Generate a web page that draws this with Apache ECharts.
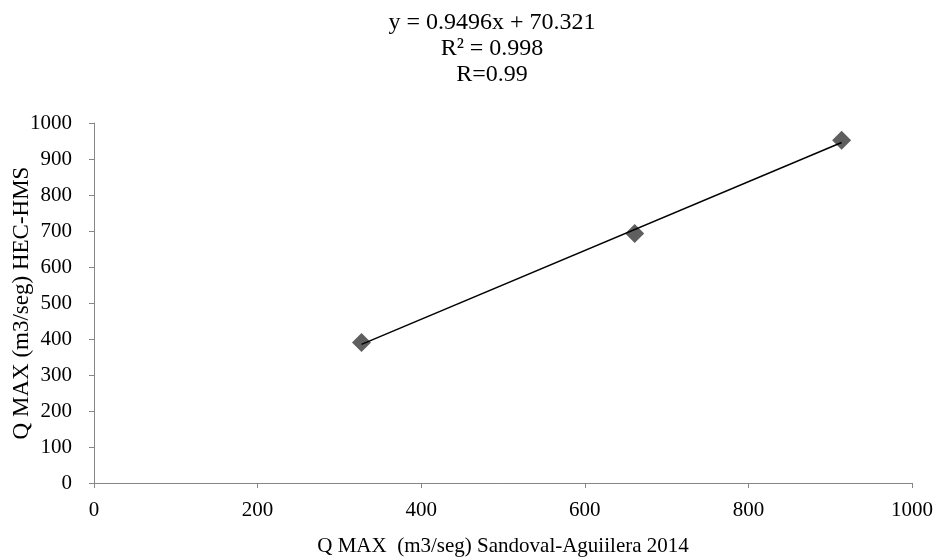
<!DOCTYPE html>
<html>
<head>
<meta charset="utf-8">
<script src="https://cdn.jsdelivr.net/npm/echarts@6/dist/echarts.min.js"></script>
<style>html,body{margin:0;padding:0;background:#fff}#c{width:933px;height:560px}</style>
</head>
<body>
<div id="c"></div>
<script>
var xValues = [327, 661, 914];
var yValues = [390, 693, 952];
var titleLines = ['y = 0.9496x + 70.321', 'R\u00B2 = 0.998', 'R=0.99'];
var xAxisName = 'Q MAX  (m3/seg) Sandoval-Aguiilera 2014';
var yAxisName = 'Q MAX (m3/seg) HEC-HMS';

// least-squares trendline from the data
var n = xValues.length, mx = 0, my = 0;
for (var i = 0; i < n; i++) { mx += xValues[i]; my += yValues[i]; }
mx /= n; my /= n;
var sxy = 0, sxx = 0;
for (var i = 0; i < n; i++) { sxy += (xValues[i]-mx)*(yValues[i]-my); sxx += (xValues[i]-mx)*(xValues[i]-mx); }
var slope = sxy / sxx, intercept = my - slope * mx;
var xmin = Math.min.apply(null, xValues), xmax = Math.max.apply(null, xValues);
var trend = [[xmin, slope*xmin+intercept], [xmax, slope*xmax+intercept]];
var points = xValues.map(function(x, i){ return [x, yValues[i]]; });

var font = '"Liberation Serif", "Times New Roman", serif';
var axisColor = '#868686';
var plain = function(v){ return String(v); };
var chart = echarts.init(document.getElementById('c'));
chart.setOption({
  animation: false,
  backgroundColor: '#ffffff',
  title: {
    text: titleLines.join('\n'),
    left: 487, top: 5, textAlign: 'center',
    textStyle: { fontFamily: font, fontSize: 24, fontWeight: 'normal', color: '#000', lineHeight: 26 }
  },
  grid: { left: 94, right: 21, top: 123, bottom: 77, containLabel: false, outerBoundsMode: 'none' },
  xAxis: {
    type: 'value', min: 0, max: 1000, interval: 200,
    name: xAxisName, nameLocation: 'middle', nameGap: 53, nameMoveOverlap: false,
    nameTextStyle: { fontFamily: font, fontSize: 21, color: '#000' },
    axisLine: { show: true, lineStyle: { color: axisColor, width: 1 } },
    axisTick: { show: true, length: 5, lineStyle: { color: axisColor } },
    axisLabel: { fontFamily: font, fontSize: 21, color: '#000', margin: 17, formatter: plain },
    splitLine: { show: false }
  },
  yAxis: {
    type: 'value', min: 0, max: 1000, interval: 100,
    name: yAxisName, nameLocation: 'middle', nameGap: 61, nameMoveOverlap: false,
    nameTextStyle: { fontFamily: font, fontSize: 23, color: '#000' },
    axisLine: { show: true, lineStyle: { color: axisColor, width: 1 } },
    axisTick: { show: true, length: 5, lineStyle: { color: axisColor } },
    axisLabel: { fontFamily: font, fontSize: 21, color: '#000', margin: 22, formatter: plain },
    splitLine: { show: false }
  },
  series: [
    {
      type: 'line', data: trend, symbol: 'none', z: 3,
      lineStyle: { color: '#000', width: 1.5 }
    },
    {
      type: 'scatter', data: points, symbol: 'diamond', symbolSize: [19, 19], z: 2,
      itemStyle: { color: '#5f5f5f', opacity: 1 }
    }
  ]
});
</script>
</body>
</html>
